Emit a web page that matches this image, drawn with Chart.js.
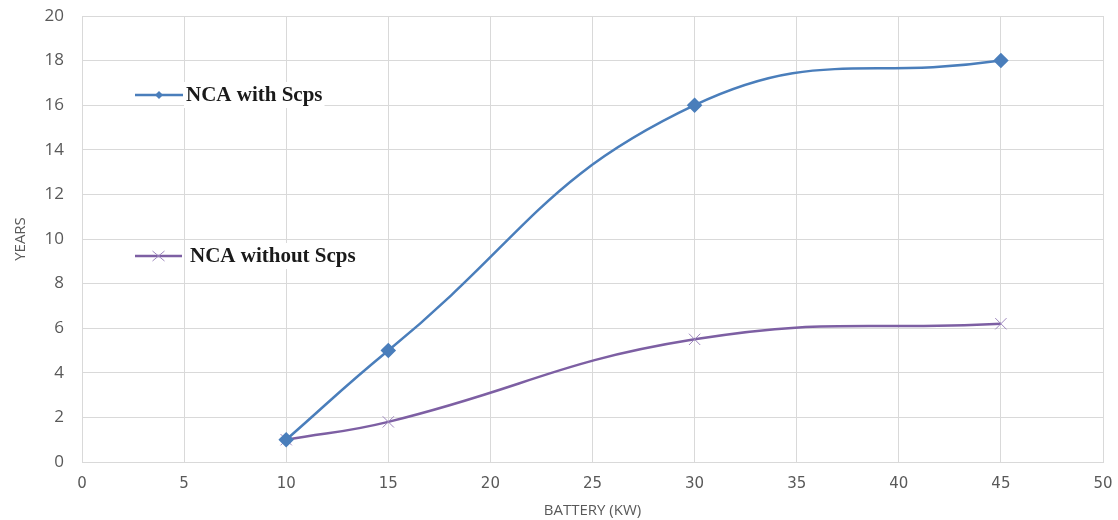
<!doctype html>
<html>

<head>
  <meta charset="utf-8">
  <title>Battery life</title>
  <style>
    html, body { margin: 0; padding: 0; background: #fff; }
    .chartBox { width: 1118px; height: 520px; }
  </style>
</head>

<body>
  <div class="chartBox">
    <canvas id="myChart"></canvas>
  </div>

  <script src="https://cdn.jsdelivr.net/npm/chart.js"></script>
  <script>
    const battery = [10, 15, 30, 45];
    const withScps = [1, 5, 16, 18];
    const withoutScps = [1, 1.8, 5.5, 6.2];
    const seriesNames = ['NCA with Scps', 'NCA without Scps'];

    const tickColor = '#595959';

    // Excel puts the legend inside the plot, with a white box behind each label
    const insideLegend = {
      id: 'insideLegend',
      afterDraw(chart) {
        const ctx = chart.ctx;
        const items = [
          { y: 95, x0: 135, x1: 183, tx: 186, ds: 0 },
          { y: 256, x0: 135, x1: 182, tx: 190, ds: 1 }
        ];
        ctx.save();
        ctx.font = 'bold 21px "Liberation Serif"';
        ctx.textBaseline = 'middle';
        items.forEach((it) => {
          const ds = chart.data.datasets[it.ds];
          const w = ctx.measureText(ds.label).width;
          ctx.fillStyle = '#fff';
          ctx.fillRect(it.tx - 2, it.y - 13, w + 4, 26);
          ctx.strokeStyle = ds.borderColor;
          ctx.lineWidth = 2.5;
          ctx.beginPath();
          ctx.moveTo(it.x0, it.y);
          ctx.lineTo(it.x1, it.y);
          ctx.stroke();
          const mx = (it.x0 + it.x1) / 2;
          if (it.ds === 0) {
            ctx.fillStyle = ds.pointBackgroundColor;
            ctx.beginPath();
            ctx.moveTo(mx, it.y - 4);
            ctx.lineTo(mx + 4, it.y);
            ctx.lineTo(mx, it.y + 4);
            ctx.lineTo(mx - 4, it.y);
            ctx.closePath();
            ctx.fill();
          } else {
            ctx.strokeStyle = ds.pointBorderColor;
            ctx.lineWidth = 1;
            ctx.beginPath();
            ctx.moveTo(mx - 6, it.y - 5);
            ctx.lineTo(mx + 6, it.y + 5);
            ctx.moveTo(mx - 6, it.y + 5);
            ctx.lineTo(mx + 6, it.y - 5);
            ctx.stroke();
          }
          ctx.fillStyle = '#1a1a1a';
          ctx.fillText(ds.label, it.tx, it.y + 1);
        });
        ctx.restore();
      }
    };

    const data = {
      datasets: [{
        label: seriesNames[0],
        data: battery.map((b, i) => ({ x: b, y: withScps[i] })),
        borderColor: '#4a7ebb',
        borderWidth: 2.5,
        pointStyle: 'rectRot',
        pointRadius: 6,
        pointBackgroundColor: '#4a7ebb',
        pointBorderColor: '#4a7ebb',
        tension: 0.45
      }, {
        label: seriesNames[1],
        data: battery.map((b, i) => ({ x: b, y: withoutScps[i] })),
        borderColor: '#7d5fa3',
        borderWidth: 2.5,
        pointStyle: 'crossRot',
        pointRadius: 8,
        pointBorderWidth: 1,
        pointBorderColor: '#9d87bd',
        pointBackgroundColor: '#9d87bd',
        tension: 0.45
      }]
    };

    const config = {
      type: 'line',
      data,
      options: {
        responsive: true,
        maintainAspectRatio: false,
        animation: false,
        layout: { padding: { top: 16, right: 15, left: 0, bottom: 0 } },
        scales: {
          x: {
            type: 'linear',
            min: 0,
            max: 50,
            ticks: { stepSize: 5, color: tickColor, padding: 13, font: { family: 'DejaVu Sans', size: 15 } },
            grid: { color: '#d9d9d9', drawTicks: false },
            border: { color: '#d9d9d9' },
            title: { display: true, text: 'BATTERY (KW)', color: tickColor, padding: { top: 8, bottom: 0 }, font: { family: 'Open Sans', size: 15 } },
            afterFit: (s) => { s.height = 58; s.paddingLeft = 0; s.paddingRight = 0; }
          },
          y: {
            min: 0,
            max: 20,
            ticks: { stepSize: 2, color: tickColor, padding: 18, font: { family: 'Open Sans', size: 17 } },
            grid: { color: '#d9d9d9', drawTicks: false },
            border: { color: '#d9d9d9' },
            title: { display: true, text: 'YEARS', color: tickColor, padding: { top: 12, bottom: 0 }, font: { family: 'Open Sans', size: 15 } },
            afterFit: (s) => { s.width = 82; s.paddingTop = 0; s.paddingBottom = 0; }
          }
        },
        plugins: {
          legend: { display: false },
          tooltip: { enabled: false }
        }
      },
      plugins: [insideLegend]
    };

    new Chart(document.getElementById('myChart'), config);
  </script>
</body>

</html>
